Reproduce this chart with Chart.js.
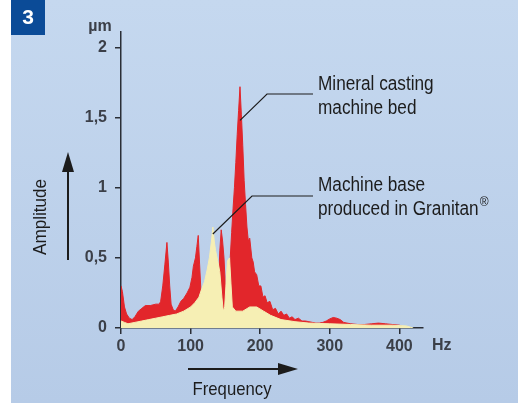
<!DOCTYPE html>
<html>
<head>
<meta charset="utf-8">
<script src="https://cdn.jsdelivr.net/npm/chart.js@4.4.1/dist/chart.umd.min.js"></script>
<style>
  html, body { margin: 0; padding: 0; background: #fff; }
  #wrap { width: 518px; height: 403px; }
</style>
</head>
<body>
<div id="wrap"><canvas id="vibChart" width="518" height="403"></canvas></div>
<script>
// Vibration amplitude spectra (Hz -> µm)
const freqMineral = [0, 2, 5, 8, 12, 16, 20, 25, 30, 35, 42, 50, 55, 57, 60, 63, 66, 68, 70, 72, 75, 78, 82, 86, 90, 95, 99, 102, 104, 107, 109, 111, 113, 115, 118, 130, 140, 142, 144, 146, 148, 150, 152, 155, 157, 159, 161, 163, 165, 167, 169, 171, 173, 175, 177, 179, 181, 183, 185, 188, 190, 192, 195, 198, 201, 204, 207, 210, 214, 218, 222, 226, 230, 234, 238, 242, 246, 250, 255, 260, 265, 270, 275, 280, 285, 290, 295, 300, 305, 310, 315, 320, 330, 340, 350, 360, 370, 380, 390, 400, 405, 410];
const ampMineral = [0.30, 0.26, 0.15, 0.10, 0.07, 0.06, 0.08, 0.12, 0.14, 0.16, 0.16, 0.17, 0.17, 0.19, 0.30, 0.45, 0.61, 0.47, 0.30, 0.17, 0.13, 0.12, 0.15, 0.19, 0.21, 0.25, 0.29, 0.36, 0.44, 0.50, 0.58, 0.66, 0.45, 0.25, 0.20, 0.20, 0.30, 0.55, 0.70, 0.62, 0.50, 0.30, 0.25, 0.35, 0.50, 0.68, 0.85, 1.00, 1.18, 1.38, 1.55, 1.72, 1.52, 1.30, 1.05, 0.88, 0.72, 0.62, 0.64, 0.50, 0.47, 0.40, 0.38, 0.30, 0.30, 0.22, 0.23, 0.18, 0.19, 0.13, 0.14, 0.10, 0.12, 0.09, 0.10, 0.07, 0.08, 0.06, 0.07, 0.05, 0.05, 0.045, 0.04, 0.035, 0.035, 0.04, 0.05, 0.065, 0.075, 0.07, 0.06, 0.04, 0.03, 0.025, 0.025, 0.03, 0.035, 0.03, 0.025, 0.02, 0.01, 0];

const freqGranitan = [0, 5, 10, 20, 30, 40, 50, 60, 70, 80, 90, 100, 106, 112, 116, 120, 124, 127, 130, 132, 134, 136, 139, 142, 145, 147, 149, 151, 153, 156, 158, 160, 165, 175, 185, 195, 205, 215, 230, 250, 270, 300, 330, 360, 390, 410, 420];
const ampGranitan = [0.05, 0.04, 0.03, 0.04, 0.05, 0.06, 0.07, 0.08, 0.09, 0.10, 0.12, 0.15, 0.18, 0.22, 0.28, 0.33, 0.42, 0.50, 0.62, 0.72, 0.62, 0.55, 0.48, 0.40, 0.22, 0.12, 0.15, 0.32, 0.48, 0.50, 0.32, 0.15, 0.12, 0.12, 0.15, 0.15, 0.12, 0.09, 0.06, 0.045, 0.035, 0.03, 0.025, 0.02, 0.02, 0.015, 0];

const xTicks = [0, 100, 200, 300, 400];
const yTicks = [0, 0.5, 1, 1.5, 2];
const seriesNames = ['Machine base produced in Granitan®', 'Mineral casting machine bed'];

const toPoints = (xs, ys) => xs.map((x, i) => ({ x: x, y: ys[i] }));

const sans = '"Liberation Sans", Arial, sans-serif';
const ink = '#1c1c1c';

function arrow(c, x1, y1, x2, y2, headLen, headHalf) {
    const a = Math.atan2(y2 - y1, x2 - x1);
    const bx = x2 - Math.cos(a) * headLen, by = y2 - Math.sin(a) * headLen;
    c.beginPath();
    c.moveTo(x1, y1);
    c.lineTo(bx, by);
    c.stroke();
    c.beginPath();
    c.moveTo(x2, y2);
    c.lineTo(bx - Math.sin(a) * headHalf, by + Math.cos(a) * headHalf);
    c.lineTo(bx + Math.sin(a) * headHalf, by - Math.cos(a) * headHalf);
    c.closePath();
    c.fill();
}

// condensed-looking text: squeeze horizontally around the anchor
function narrowText(c, txt, x, y, squeeze) {
    c.save();
    c.translate(x, y);
    c.scale(squeeze, 1);
    c.fillText(txt, 0, 0);
    const w = c.measureText(txt).width * squeeze;
    c.restore();
    return w;
}

const decor = {
    id: 'decor',
    beforeDraw(chart) {
        const c = chart.ctx;
        c.save();
        c.fillStyle = '#ffffff';
        c.fillRect(0, 0, chart.width, chart.height);
        const g = c.createLinearGradient(0, 0, 0, chart.height);
        g.addColorStop(0, '#c5d8ef');
        g.addColorStop(1, '#b6cbe7');
        c.fillStyle = g;
        c.fillRect(11, 0, chart.width - 11, chart.height);
        c.restore();
    },
    afterDraw(chart) {
        const c = chart.ctx;
        const xs = chart.scales.x, ys = chart.scales.y;
        c.save();

        // figure number box
        c.fillStyle = '#0b4b97';
        c.fillRect(11, 0, 34, 35);
        c.fillStyle = '#ffffff';
        c.font = 'bold 21px ' + sans;
        c.textAlign = 'center';
        c.textBaseline = 'middle';
        c.fillText('3', 28, 18);

        // unit labels
        c.fillStyle = '#3b3f48';
        c.font = 'bold 16px ' + sans;
        c.fillText('µm', 100, 27);
        c.textAlign = 'left';
        c.fillText('Hz', 432, 346);

        // axis titles with arrows
        c.fillStyle = ink;
        c.strokeStyle = ink;
        c.lineWidth = 2;
        c.textBaseline = 'alphabetic';
        c.font = '19px ' + sans;
        c.save();
        c.translate(46, 217);
        c.rotate(-Math.PI / 2);
        c.textAlign = 'center';
        c.scale(0.9, 1);
        c.fillText('Amplitude', 0, 0);
        c.restore();
        arrow(c, 68, 260, 68, 152, 20, 6);

        c.textAlign = 'center';
        c.save();
        c.translate(232, 395);
        c.scale(0.88, 1);
        c.fillText('Frequency', 0, 0);
        c.restore();
        arrow(c, 188, 369, 298, 369, 20, 6);

        // callouts
        c.lineWidth = 1.2;
        c.textAlign = 'left';
        c.font = '20px ' + sans;
        const sq = 0.86;
        const m = { x: xs.getPixelForValue(171), y: ys.getPixelForValue(1.48) };
        c.beginPath();
        c.moveTo(m.x, m.y);
        c.lineTo(267, 94);
        c.lineTo(313, 94);
        c.stroke();
        narrowText(c, 'Mineral casting', 318, 90, sq);
        narrowText(c, 'machine bed', 318, 114, sq);

        const gp = { x: xs.getPixelForValue(132), y: ys.getPixelForValue(0.67) };
        c.beginPath();
        c.moveTo(gp.x, gp.y);
        c.lineTo(252, 196);
        c.lineTo(313, 196);
        c.stroke();
        narrowText(c, 'Machine base', 318, 191, sq);
        const w = narrowText(c, 'produced in Granitan', 318, 215, sq);
        c.font = '12px ' + sans;
        c.fillText('®', 318 + w + 1, 206);
        c.restore();
    }
};

const ctx = document.getElementById('vibChart').getContext('2d');
const vibChart = new Chart(ctx, {
    type: 'line',
    data: {
        datasets: [
            {
                label: seriesNames[0],
                data: toPoints(freqGranitan, ampGranitan),
                backgroundColor: '#f6efb4',
                borderColor: '#f6efb4',
                borderWidth: 1,
                pointRadius: 0,
                tension: 0,
                fill: 'origin'
            },
            {
                label: seriesNames[1],
                data: toPoints(freqMineral, ampMineral),
                backgroundColor: '#e2262b',
                borderColor: '#e2262b',
                borderWidth: 1,
                pointRadius: 0,
                tension: 0,
                fill: 'origin'
            }
        ]
    },
    options: {
        responsive: false,
        animation: false,
        layout: { padding: { top: 32, right: 95, left: 0, bottom: 0 } },
        plugins: {
            legend: { display: false },
            tooltip: { enabled: false }
        },
        scales: {
            x: {
                type: 'linear',
                min: 0,
                max: 434,
                afterFit(scale) { scale.height = 75; },
                afterBuildTicks(scale) { scale.ticks = xTicks.map(v => ({ value: v })); },
                border: { display: true, color: '#2a2e36', width: 1.5 },
                grid: { drawOnChartArea: false, drawTicks: true, tickLength: 6, color: '#2a2e36', lineWidth: 1.5 },
                ticks: {
                    padding: 3,
                    maxRotation: 0,
                    color: '#3b3f48',
                    font: { family: sans, size: 16, weight: 'bold' }
                }
            },
            y: {
                min: 0,
                max: 2.11,
                afterFit(scale) { scale.width = 121; },
                afterBuildTicks(scale) { scale.ticks = yTicks.map(v => ({ value: v })); },
                border: { display: true, color: '#2a2e36', width: 1.5 },
                grid: { drawOnChartArea: false, drawTicks: true, tickLength: 6, color: '#2a2e36', lineWidth: 1.5 },
                ticks: {
                    padding: 8,
                    color: '#3b3f48',
                    font: { family: sans, size: 16, weight: 'bold' },
                    callback: v => String(v).replace('.', ',')
                }
            }
        }
    },
    plugins: [decor]
});
</script>
</body>
</html>
